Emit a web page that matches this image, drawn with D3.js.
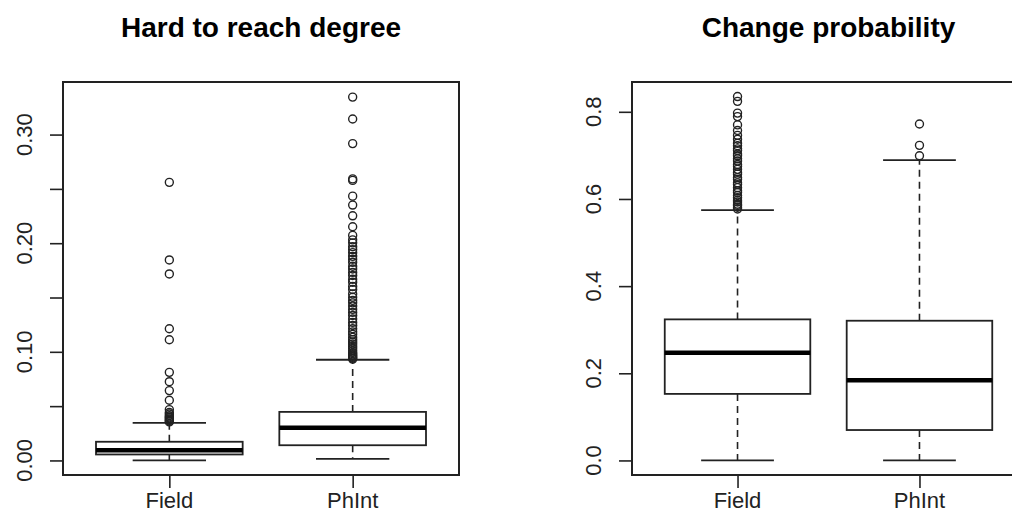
<!DOCTYPE html>
<html>
<head>
<meta charset="utf-8">
<script src="https://cdn.jsdelivr.net/npm/d3@7"></script>
<style>
  body { margin: 0; background: #fff; }
  svg text { font-family: "Liberation Sans", Arial, sans-serif; }
</style>
</head>
<body>
<svg id="chart" width="1012" height="526"></svg>
<script>
// groups shown on both panels
const categories = ['Field', 'PhInt'];

// panel 1: Hard to reach degree  (lo whisker, q1, median, q3, hi whisker)
const hardStats = [
  [0.0, 0.0055, 0.0095, 0.0172, 0.0346],
  [0.0015, 0.0140, 0.0300, 0.0447, 0.0927]
];
const hardOutField = [0.256, 0.1846, 0.1717, 0.1212, 0.1111, 0.0811, 0.0725, 0.0643, 0.0554,
  0.0468, 0.0441, 0.0428, 0.0412, 0.0401, 0.0392, 0.0381, 0.0372, 0.0363, 0.0355];
const hardOutPhInt = [0.3345, 0.3143, 0.2917, 0.2592, 0.2578, 0.2433, 0.2351, 0.2252, 0.2151,
  0.2072, 0.2031, 0.2003, 0.1968, 0.1941, 0.1913, 0.1879, 0.1852, 0.1824, 0.1788, 0.1762,
  0.1731, 0.1703, 0.1668, 0.1641, 0.1602, 0.1574, 0.1533, 0.1502, 0.1474, 0.1451, 0.1422,
  0.1391, 0.1363, 0.1334, 0.1302, 0.1271, 0.1243, 0.1212, 0.1184, 0.1161, 0.1133, 0.1112,
  0.1091, 0.1072, 0.1051, 0.1033, 0.1012, 0.0994, 0.0982, 0.0971, 0.0962, 0.0951, 0.0942, 0.0933];
const hardTicks = [0, 0.05, 0.10, 0.15, 0.20, 0.25, 0.30];
const hardLabels = ['0.00', '', '0.10', '', '0.20', '', '0.30'];

// panel 2: Change probability
const changeStats = [
  [0.0, 0.1527, 0.2470, 0.3237, 0.5743],
  [0.0, 0.0698, 0.1840, 0.3206, 0.6890]
];
const changeOutField = [0.835, 0.824, 0.797, 0.789, 0.770, 0.757, 0.746, 0.737, 0.728, 0.722,
  0.715, 0.711, 0.703, 0.699, 0.692, 0.687, 0.679, 0.675, 0.668, 0.661, 0.657, 0.649, 0.645,
  0.637, 0.633, 0.626, 0.619, 0.615, 0.608, 0.603, 0.597, 0.593, 0.588, 0.585, 0.581, 0.577];
const changeOutPhInt = [0.772, 0.723, 0.699];
const changeTicks = [0, 0.2, 0.4, 0.6, 0.8];
const changeLabels = ['0.0', '0.2', '0.4', '0.6', '0.8'];

const svg = d3.select('#chart');
const ink = '#222';

function drawPanel(opt) {
  const top = 82, bottom = 475;
  const g = svg.append('g');

  const x = d3.scalePoint()
    .domain(categories)
    .range([opt.left, opt.right])
    .padding(0.58);

  const y = d3.scaleLinear()
    .domain(opt.yDomain)
    .range([bottom, top]);

  const unit = x.step();

  // title
  g.append('text')
    .attr('x', (opt.left + opt.right) / 2)
    .attr('y', 37)
    .attr('text-anchor', 'middle')
    .attr('font-size', 28)
    .attr('font-weight', 'bold')
    .attr('fill', '#000')
    .text(opt.title);

  // y axis ticks
  const yAxis = g.append('g')
    .attr('transform', `translate(${opt.left},0)`)
    .call(d3.axisLeft(y).tickValues(opt.ticks).tickSize(13).tickSizeOuter(0).tickFormat(''));
  yAxis.select('.domain').remove();
  yAxis.selectAll('line').attr('stroke', ink).attr('stroke-width', 1.6);

  g.selectAll('.ylab')
    .data(opt.ticks.map((t, i) => ({ t, l: opt.labels[i] })).filter(d => d.l !== ''))
    .enter()
    .append('text')
    .attr('transform', d => `translate(${opt.left - 31},${y(d.t)}) rotate(-90)`)
    .attr('text-anchor', 'middle')
    .attr('font-size', 22)
    .attr('fill', ink)
    .text(d => d.l);

  // x axis
  const xAxis = g.append('g')
    .attr('transform', `translate(0,${bottom})`)
    .call(d3.axisBottom(x).tickSize(13).tickSizeOuter(0).tickFormat(''));
  xAxis.select('.domain').remove();
  xAxis.selectAll('line').attr('stroke', ink).attr('stroke-width', 1.6);

  g.selectAll('.xlab')
    .data(categories)
    .enter()
    .append('text')
    .attr('x', d => x(d))
    .attr('y', 508)
    .attr('text-anchor', 'middle')
    .attr('font-size', 22)
    .attr('fill', ink)
    .text(d => d);

  // boxes
  const boxes = g.selectAll('.box')
    .data(categories.map((c, i) => ({ c, s: opt.stats[i], out: opt.outliers[i] })))
    .enter()
    .append('g');

  boxes.append('line') // lower whisker
    .attr('x1', d => x(d.c)).attr('x2', d => x(d.c))
    .attr('y1', d => y(d.s[1])).attr('y2', d => y(d.s[0]))
    .attr('stroke', ink).attr('stroke-width', 1.6).attr('stroke-dasharray', '7,5');

  boxes.append('line') // upper whisker
    .attr('x1', d => x(d.c)).attr('x2', d => x(d.c))
    .attr('y1', d => y(d.s[3])).attr('y2', d => y(d.s[4]))
    .attr('stroke', ink).attr('stroke-width', 1.6).attr('stroke-dasharray', '7,5');

  [0, 4].forEach(k => {
    boxes.append('line')
      .attr('x1', d => x(d.c) - unit * 0.2).attr('x2', d => x(d.c) + unit * 0.2)
      .attr('y1', d => y(d.s[k])).attr('y2', d => y(d.s[k]))
      .attr('stroke', ink).attr('stroke-width', 1.8);
  });

  boxes.append('rect')
    .attr('x', d => x(d.c) - unit * 0.4)
    .attr('width', unit * 0.8)
    .attr('y', d => y(d.s[3]))
    .attr('height', d => y(d.s[1]) - y(d.s[3]))
    .attr('fill', '#fff')
    .attr('stroke', ink).attr('stroke-width', 1.8);

  boxes.append('line') // median
    .attr('x1', d => x(d.c) - unit * 0.4).attr('x2', d => x(d.c) + unit * 0.4)
    .attr('y1', d => y(d.s[2])).attr('y2', d => y(d.s[2]))
    .attr('stroke', '#000').attr('stroke-width', 4.5);

  boxes.selectAll('circle')
    .data(d => d.out.map(v => ({ c: d.c, v })))
    .enter()
    .append('circle')
    .attr('cx', d => x(d.c))
    .attr('cy', d => y(d.v))
    .attr('r', 4)
    .attr('fill', 'none')
    .attr('stroke', ink)
    .attr('stroke-width', 1.4);

  // frame
  g.append('rect')
    .attr('x', opt.left).attr('y', top)
    .attr('width', opt.right - opt.left).attr('height', bottom - top)
    .attr('fill', 'none')
    .attr('stroke', ink).attr('stroke-width', 2);
}

drawPanel({
  title: 'Hard to reach degree', left: 63, right: 459,
  yDomain: [-0.0134, 0.3484], ticks: hardTicks, labels: hardLabels,
  stats: hardStats, outliers: [hardOutField, hardOutPhInt]
});

drawPanel({
  title: 'Change probability', left: 632, right: 1025,
  yDomain: [-0.0334, 0.8684], ticks: changeTicks, labels: changeLabels,
  stats: changeStats, outliers: [changeOutField, changeOutPhInt]
});
</script>
</body>
</html>
